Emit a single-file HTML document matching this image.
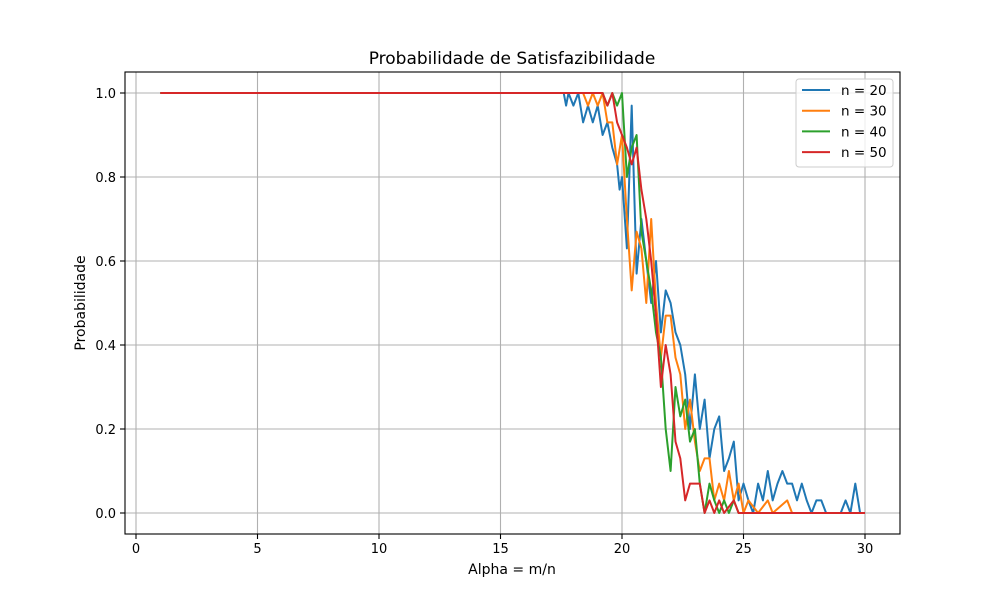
<!DOCTYPE html>
<html><head><meta charset="utf-8"><style>body{margin:0;background:#fff}svg{display:block;font-family:"DejaVu Sans","Liberation Sans",sans-serif}</style></head>
<body>
<svg id="chart" width="1000" height="600"></svg>
<script>
const seriesNames=["n = 20","n = 30","n = 40","n = 50"];
const colors=["#1f77b4","#ff7f0e","#2ca02c","#d62728"];
const blueX=[1,17.6,17.7,17.8,18,18.2,18.4,18.6,18.8,19,19.2,19.4,19.6,19.8,19.9,20,20.2,20.4,20.6,20.8,21,21.2,21.4,21.6,21.8,22,22.2,22.4,22.6,22.8,23,23.2,23.4,23.6,23.8,24,24.2,24.4,24.6,24.8,25,25.2,25.4,25.6,25.8,26,26.2,26.4,26.6,26.8,27,27.2,27.4,27.6,27.8,28,28.2,28.4,29,29.2,29.4,29.6,29.8,30];
const blueY=[1,1,0.97,1,0.97,1,0.93,0.97,0.93,0.97,0.9,0.93,0.87,0.83,0.77,0.8,0.63,0.97,0.57,0.7,0.6,0.5,0.6,0.43,0.53,0.5,0.43,0.4,0.33,0.2,0.33,0.2,0.27,0.13,0.2,0.23,0.1,0.13,0.17,0.03,0.07,0.03,0,0.07,0.03,0.1,0.03,0.07,0.1,0.07,0.07,0.03,0.07,0.03,0,0.03,0.03,0,0,0.03,0,0.07,0,0];
const orangeX=[1,18.4,18.6,18.8,19,19.2,19.4,19.6,19.8,20,20.2,20.4,20.6,20.8,21,21.2,21.4,21.6,21.8,22,22.2,22.4,22.6,22.8,23,23.2,23.4,23.6,23.8,24,24.2,24.4,24.6,24.8,25,25.2,25.6,26,26.2,26.8,27,30];
const orangeY=[1,1,0.97,1,0.97,1,0.93,0.93,0.83,0.9,0.7,0.53,0.67,0.63,0.5,0.7,0.5,0.37,0.47,0.47,0.37,0.33,0.2,0.27,0.17,0.1,0.13,0.13,0.03,0.07,0.03,0.1,0.03,0.07,0,0.03,0,0.03,0,0.03,0,0];
const greenX=[1,19.2,19.4,19.6,19.8,20,20.2,20.4,20.6,20.8,21,21.2,21.4,21.6,21.8,22,22.2,22.4,22.6,22.8,23,23.2,23.4,23.6,23.8,24,24.2,24.4,24.6,24.8,30];
const greenY=[1,1,0.97,1,0.97,1,0.8,0.87,0.9,0.67,0.6,0.53,0.43,0.37,0.2,0.1,0.3,0.23,0.27,0.17,0.2,0.07,0,0.07,0.03,0,0.03,0,0.03,0,0];
const redX=[1,19.2,19.4,19.6,19.8,20,20.2,20.4,20.6,20.8,21,21.2,21.4,21.6,21.8,22,22.2,22.4,22.6,22.8,23,23.2,23.4,23.6,23.8,24,24.2,24.6,24.8,30];
const redY=[1,1,0.97,1,0.93,0.9,0.87,0.83,0.87,0.77,0.7,0.6,0.47,0.3,0.4,0.33,0.17,0.13,0.03,0.07,0.07,0.07,0,0.03,0,0.03,0,0.03,0,0];
const xTicks=[0,5,10,15,20,25,30];
const yTicks=[0,0.2,0.4,0.6,0.8,1.0];
const NS="http://www.w3.org/2000/svg";
const svg=document.getElementById('chart');
const L=125,R=900,T=72,B=534;
function sx(v){return 136+v*(865-136)/30;}
function sy(v){return 513-v*420;}
function mk(tag,at,txt){const e=document.createElementNS(NS,tag);for(const k in at)e.setAttribute(k,at[k]);if(txt!==undefined)e.textContent=txt;svg.appendChild(e);return e;}
xTicks.forEach(t=>{const x=sx(t);
 let g=mk('line',{x1:x,x2:x,y1:T,y2:B,stroke:'#b0b0b0','stroke-width':1.1});
 
 
 mk('line',{x1:x,x2:x,y1:B,y2:B+5,stroke:'#000','stroke-width':1.1});
 let l=mk('text',{x:x,y:B+19,'text-anchor':'middle','font-size':13},String(t));
 
 });
yTicks.forEach(t=>{const y=sy(t);
 let g=mk('line',{x1:L,x2:R,y1:y,y2:y,stroke:'#b0b0b0','stroke-width':1.1});
 
 
 mk('line',{x1:L-5,x2:L,y1:y,y2:y,stroke:'#000','stroke-width':1.1});
 let l=mk('text',{x:L-9,y:y+5,'text-anchor':'end','font-size':13},t.toFixed(1));
 
 });
const allX=[blueX,orangeX,greenX,redX],allY=[blueY,orangeY,greenY,redY];
allX.forEach((xs,i)=>{const d=xs.map((x,j)=>(j?'L':'M')+sx(x).toFixed(1)+','+sy(allY[i][j]).toFixed(1)).join('');
 let p=mk('path',{d:d,fill:'none',stroke:colors[i],'stroke-width':2,'stroke-linejoin':'round'});
 
 });
let fr=mk('rect',{x:L,y:T,width:R-L,height:B-T,fill:'none',stroke:'#000','stroke-width':1.1});


let tt=mk('text',{x:512,y:64,'text-anchor':'middle','font-size':17},'Probabilidade de Satisfazibilidade');


let xl=mk('text',{x:512,y:574,'text-anchor':'middle','font-size':14},'Alpha = m/n');


let yl=mk('text',{x:0,y:0,'text-anchor':'middle','font-size':14,transform:'translate(85,303) rotate(-90)'},'Probabilidade');


let lg=mk('rect',{x:796,y:79,width:97,height:88,rx:3,fill:'#fff','fill-opacity':0.8,stroke:'#ccc','stroke-width':1});


seriesNames.forEach((n,i)=>{const y=90+i*20.7;
 mk('line',{x1:802,x2:830,y1:y,y2:y,stroke:colors[i],'stroke-width':2});
 let t=mk('text',{x:841,y:y+5,'font-size':13.5},n);
 
 });
</script>
</body></html>
